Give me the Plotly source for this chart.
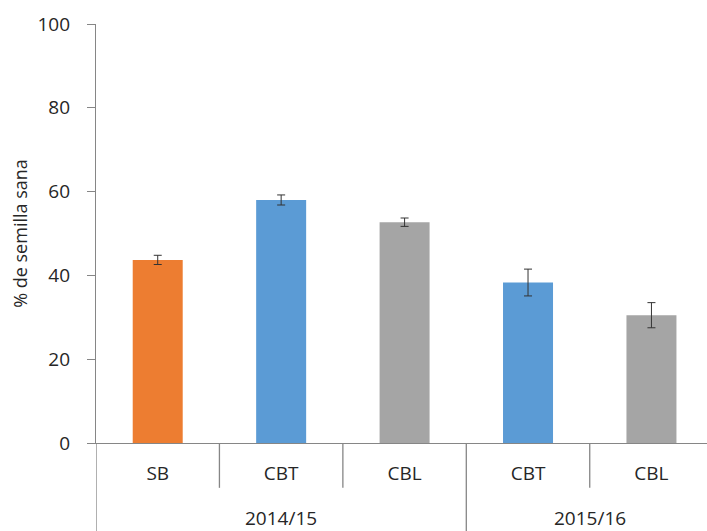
import plotly.graph_objects as go

# Seasons (outer level) and treatments (inner level)
seasons = ["2014/15", "2014/15", "2014/15", "2015/16", "2015/16"]
treatments = ["SB", "CBT", "CBL", "CBT", "CBL"]
healthy_seed = [43.7, 58.0, 52.7, 38.3, 30.5]
std_err = [1.1, 1.2, 1.0, 3.2, 3.0]
bar_colors = ["#ED7D31", "#5B9BD5", "#A5A5A5", "#5B9BD5", "#A5A5A5"]
y_ticks = [0, 20, 40, 60, 80, 100]

axis_grey = "#868686"
text_color = "#262626"
font_family = "Open Sans, Lato, sans-serif"

positions = list(range(len(treatments)))

fig = go.Figure(
    go.Bar(
        x=positions,
        y=healthy_seed,
        marker=dict(color=bar_colors, line=dict(width=0)),
        error_y=dict(type="data", array=std_err, visible=True,
                     color="#333333", thickness=1, width=4),
        width=0.405,
    )
)

# Category separators below the axis: short between treatments,
# full height between seasons (and at the left edge).
short_drop = -0.107
long_drop = -0.25
boundaries = [(-0.5, True)]
for i in range(1, len(seasons)):
    boundaries.append((i - 0.5, seasons[i] != seasons[i - 1]))
for xb, is_group in boundaries:
    fig.add_shape(type="line", xref="x", yref="paper",
                  x0=xb, x1=xb, y0=0, y1=long_drop if is_group else short_drop,
                  line=dict(color=axis_grey, width=1.3))

# Season labels centred under their treatments
seen = []
for s in seasons:
    if s not in seen:
        seen.append(s)
for s in seen:
    idx = [i for i, v in enumerate(seasons) if v == s]
    fig.add_annotation(x=sum(idx) / len(idx), y=-0.179, xref="x", yref="paper",
                       text=s, showarrow=False, yanchor="middle",
                       font=dict(size=19, color=text_color, family=font_family))

fig.update_layout(
    width=707, height=531,
    margin=dict(l=96, r=0, t=24, b=88),
    paper_bgcolor="white", plot_bgcolor="white",
    showlegend=False,
    font=dict(family=font_family, color=text_color, size=18),
    xaxis=dict(
        range=[-0.5, 4.45],
        tickvals=positions, ticktext=treatments,
        showline=True, linecolor=axis_grey, linewidth=1.3,
        ticks="", ticklabelstandoff=13,
        tickfont=dict(size=19),
        showgrid=False, zeroline=False,
    ),
    yaxis=dict(
        range=[0, 100], tickvals=y_ticks,
        showline=True, linecolor=axis_grey, linewidth=1.3,
        ticks="outside", ticklen=8, tickcolor=axis_grey,
        ticklabelstandoff=13,
        showgrid=False, zeroline=False,
        tickfont=dict(size=19),
        title=dict(text="% de semilla sana", font=dict(size=18), standoff=5),
    ),
)

fig.write_html("out.html")
